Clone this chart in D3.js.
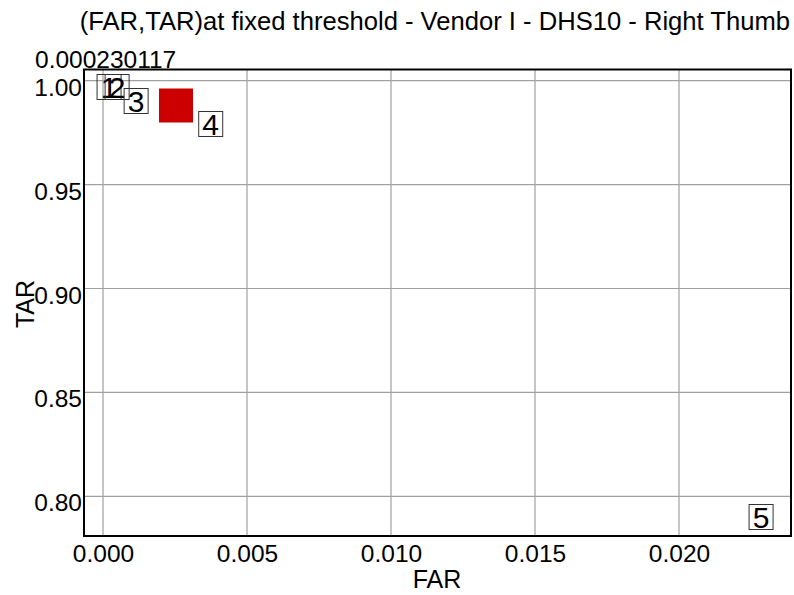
<!DOCTYPE html>
<html>
<head>
<meta charset="utf-8">
<script src="https://cdn.jsdelivr.net/npm/d3@7"></script>
<style>
  html, body { margin: 0; padding: 0; background: #fff; }
  svg { display: block; font-family: "Liberation Sans", Arial, sans-serif; }
</style>
</head>
<body>
<svg id="chart" width="794" height="595"></svg>
<script>
// Operating points (FAR, TAR) with their numeric labels
const pointIds  = ["1", "2", "3", "4", "5"];
const pointFAR  = [0.00021, 0.00049, 0.00115, 0.00374, 0.02285];
const pointTAR  = [0.99697, 0.99697, 0.99023, 0.97916, 0.79004];

// Highlighted operating point at the fixed threshold
const markFAR = [0.002535];
const markTAR = [0.98807];

// Threshold value shown above the plot
const thresholdText = "0.000230117";

// Axis ticks
const xTicks = [0.000, 0.005, 0.010, 0.015, 0.020];
const yTicks = [0.80, 0.85, 0.90, 0.95, 1.00];

const titleText = "(FAR,TAR)at fixed threshold - Vendor I - DHS10 - Right Thumb";

const svg = d3.select("#chart");
const plot = { left: 84, right: 791, top: 69.5, bottom: 536 };

const x = d3.scaleLinear().domain([-0.00066, 0.023889]).range([plot.left, plot.right]);
const y = d3.scaleLinear().domain([0.78090, 1.00539]).range([plot.bottom, plot.top]);

const tickFont = 24.5;

// Title
svg.append("text")
  .attr("x", 790).attr("y", 30)
  .attr("text-anchor", "end")
  .attr("font-size", 25.6)
  .attr("fill", "#000")
  .text(titleText);

// Grid lines
const grid = svg.append("g");
grid.selectAll("line.vx").data(xTicks).join("line")
  .attr("x1", d => x(d)).attr("x2", d => x(d))
  .attr("y1", plot.top).attr("y2", plot.bottom)
  .attr("stroke", "#a0a0a0").attr("stroke-width", 1.2);
grid.selectAll("line.hy").data(yTicks).join("line")
  .attr("x1", plot.left).attr("x2", plot.right)
  .attr("y1", d => y(d)).attr("y2", d => y(d))
  .attr("stroke", "#a0a0a0").attr("stroke-width", 1.2);

// Axes (labels only, frame drawn separately)
const xAxis = d3.axisBottom(x).tickValues(xTicks).tickFormat(d3.format(".3f")).tickSize(0).tickPadding(0);
const gx = svg.append("g").attr("transform", `translate(0,${plot.bottom})`).call(xAxis);
gx.select(".domain").remove();
gx.selectAll("text").attr("font-size", tickFont).attr("fill", "#000")
  .attr("font-family", "Liberation Sans, Arial, sans-serif")
  .attr("dy", null).attr("y", 26);

const yAxis = d3.axisLeft(y).tickValues(yTicks).tickFormat(d3.format(".2f")).tickSize(0).tickPadding(2);
const gy = svg.append("g").attr("transform", `translate(${plot.left},0)`).call(yAxis);
gy.select(".domain").remove();
gy.selectAll("text").attr("font-size", tickFont).attr("fill", "#000")
  .attr("font-family", "Liberation Sans, Arial, sans-serif")
  .attr("dy", null).attr("y", 14.5);

// Axis titles
svg.append("text")
  .attr("x", 437).attr("y", 588)
  .attr("text-anchor", "middle")
  .attr("font-size", 25)
  .text("FAR");
svg.append("text")
  .attr("transform", "translate(34,304) rotate(-90)")
  .attr("text-anchor", "middle")
  .attr("font-size", 25)
  .text("TAR");

// Threshold value
svg.append("text")
  .attr("x", 35).attr("y", 68)
  .attr("font-size", tickFont)
  .text(thresholdText);

// Highlighted point
const sq = 34;
svg.selectAll("rect.mark").data(markFAR).join("rect")
  .attr("class", "mark")
  .attr("x", (d, i) => x(d) - sq / 2)
  .attr("y", (d, i) => y(markTAR[i]) - sq / 2)
  .attr("width", sq).attr("height", sq)
  .attr("fill", "#cc0000");

// Numbered point labels
const bw = 24, bh = 25;
const labels = svg.selectAll("g.lbl").data(pointIds).join("g")
  .attr("class", "lbl")
  .attr("transform", (d, i) => `translate(${x(pointFAR[i])},${y(pointTAR[i])})`);
labels.append("rect")
  .attr("x", -bw / 2).attr("y", -bh / 2)
  .attr("width", bw).attr("height", bh)
  .attr("fill", "none")
  .attr("stroke", "#333").attr("stroke-width", 1);
labels.append("text")
  .attr("text-anchor", "middle")
  .attr("y", 11)
  .attr("font-size", 30)
  .attr("fill", "#000")
  .text(d => d);

// Plot frame
svg.append("rect")
  .attr("x", plot.left).attr("y", plot.top)
  .attr("width", plot.right - plot.left).attr("height", plot.bottom - plot.top)
  .attr("fill", "none").attr("stroke", "#000").attr("stroke-width", 2);
</script>
</body>
</html>
